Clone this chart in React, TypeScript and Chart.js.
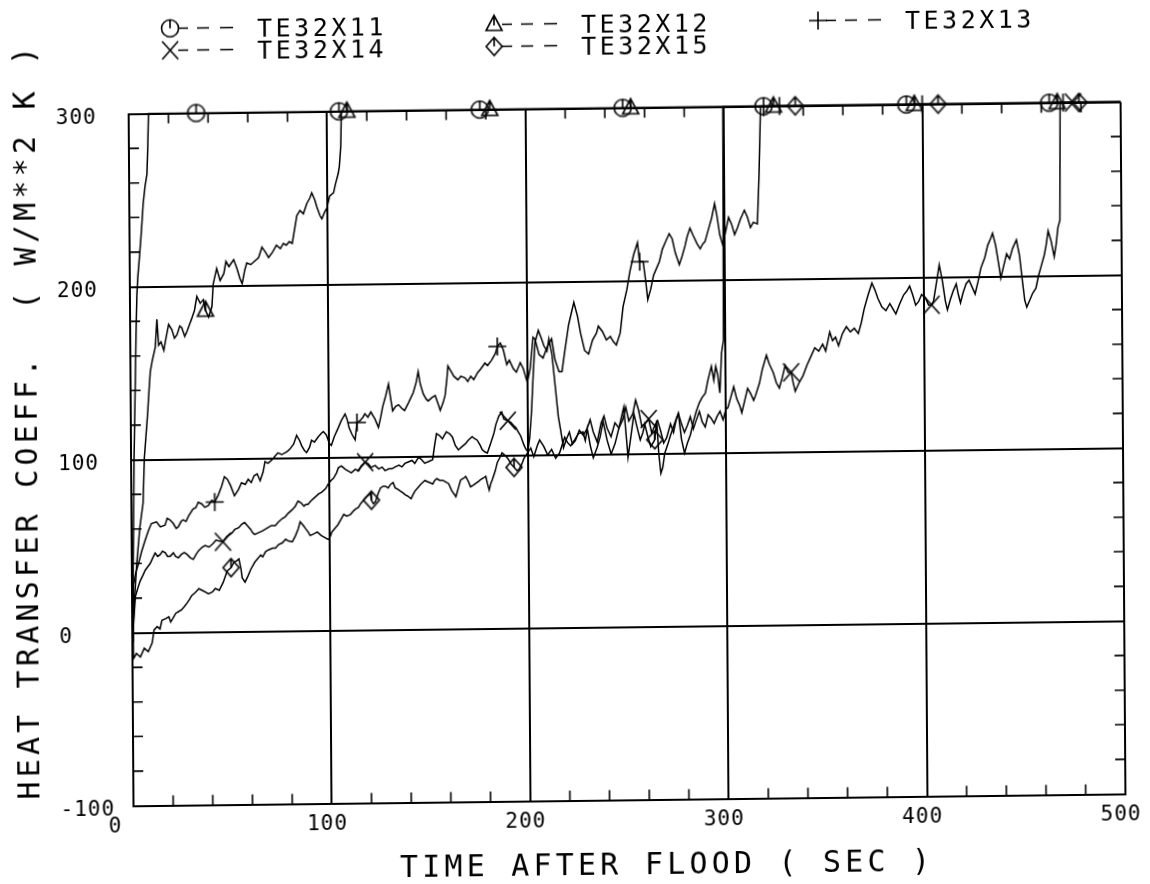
import React, { useEffect, useRef } from 'react';
import { Chart, registerables } from 'chart.js';

Chart.register(...registerables);

// ---------- text ----------
const xTitle = 'TIME AFTER FLOOD ( SEC )';
const yTitle = 'HEAT TRANSFER COEFF.  ( W/M**2 K )';
const xTickLabels = [0, 100, 200, 300, 400, 500];
const yTickLabels = [-100, 0, 100, 200, 300];
const seriesNames = ['TE32X11', 'TE32X12', 'TE32X13', 'TE32X14', 'TE32X15'];
const seriesGlyphs = ['circle', 'triangle', 'plus', 'cross', 'diamond'];

// ---------- data: [time (s), HTC] ----------
const te32x11 = [
  [0, -5], [0.5, 25], [1, 60], [1.5, 100], [2, 125], [2.5, 150], [3, 175], [3.5, 195], [4, 205], [5, 218],
  [6, 232], [7, 248], [8, 258], [9, 265], [9.5, 280], [10, 300], [34, 300], [106, 300], [177, 300], [249, 300],
  [320, 300], [392, 300], [464, 300], [500, 300],
];
const te32x11Markers = [34, 106, 177, 249, 320, 392, 464];

const te32x12 = [
  [0, -5], [1, 15], [2.5, 40], [4.2, 61], [5.9, 75], [6.7, 101], [8.4, 125], [9.3, 140], [10, 151], [11, 157],
  [12.6, 165], [13.5, 181], [14.3, 166], [15.5, 168], [16.9, 163], [18, 170], [19.4, 178], [21, 175], [22.3, 170], [23.6, 172],
  [25, 177], [26, 176], [27.5, 171], [28.7, 174], [30, 178], [31, 181], [32.5, 186], [33.7, 194], [35.4, 190], [37, 192],
  [38, 186], [39.6, 182], [41.3, 188], [42, 201], [43.8, 210], [45.5, 203], [47.4, 207], [48.5, 214], [50, 211], [52.4, 215],
  [54, 210], [55.5, 204], [56.6, 201], [58, 209], [59, 213], [61, 212], [63, 214], [65, 216], [66.7, 222], [68.5, 219],
  [70, 216], [72, 219], [74, 223], [76, 221], [77.5, 224], [79, 223], [80.5, 225], [82, 224], [84.4, 240], [86, 243],
  [87.7, 241], [89.5, 247], [91, 250], [92, 253], [93.5, 249], [94.5, 245], [96, 240], [97, 238], [98.5, 242], [99.5, 244],
  [101, 251], [103, 253], [104, 258], [105.4, 264], [106, 268], [106.8, 280], [107.2, 300], [110, 300], [182, 300], [253, 300],
  [325, 300], [396, 300], [468, 300], [500, 300],
];
const te32x12Markers = [38, 110, 182, 253, 325, 396, 468];

const te32x13 = [
  [0, -5], [0.8, 28], [2, 35], [3.4, 40], [5, 47], [6.7, 53], [8.5, 59], [10, 63], [12.6, 64], [14.5, 61],
  [16.9, 62], [18, 66], [19.4, 65], [21, 63], [22.5, 60], [23.6, 61], [25, 64], [26, 65], [27.5, 64], [28.7, 67],
  [31, 71], [32.5, 72], [33.7, 75], [35.5, 74], [37, 72], [38.8, 73], [40.5, 76], [42, 75], [43.8, 79], [45.5, 84],
  [47, 89.6], [48.5, 88], [50, 84.6], [52, 78.5], [54, 82], [55.6, 86], [57.5, 85], [59, 88], [60.5, 86], [62, 90],
  [63.5, 91], [65, 87], [66.5, 92], [67.5, 98], [69, 97], [71, 99], [72.5, 101], [74, 103], [76, 102], [77.6, 103],
  [79, 104], [80, 105], [82, 108], [83.5, 113], [85, 110], [86, 107], [87.5, 104], [88.5, 103], [90, 106], [91, 110],
  [92.5, 109], [94.4, 112], [96, 114], [97, 115], [98.5, 113], [100, 108], [101, 107], [102.5, 112], [104.5, 117], [106, 121],
  [108, 125], [109, 122], [110, 117], [111.5, 113], [113, 110], [114, 120], [115.5, 121], [117, 123], [118, 125], [119.5, 123],
  [121, 126], [123, 122], [124.8, 117], [126, 123], [127, 129], [128.5, 135], [130, 142], [131, 134], [132, 126.5], [133.5, 129],
  [135, 130], [136.5, 128], [138, 126.5], [140, 131], [142.5, 137], [144, 143], [145, 149], [146, 142], [147.5, 136], [149, 133],
  [150, 132], [152, 134], [153.5, 135], [155, 130], [156, 126.5], [157.5, 131], [158.5, 135], [159.5, 145], [160, 152], [161.5, 149],
  [163, 146], [165, 144], [166.5, 146], [168.6, 145], [170, 143], [171.5, 146], [173, 144], [175, 148], [176.5, 150], [178.7, 153.5],
  [180, 152], [182, 155], [184, 159], [185, 163], [186.5, 165], [188, 161], [189.7, 152.5], [191, 155], [193, 150], [194.5, 148],
  [196.5, 153.5], [198, 150], [200, 142], [201.5, 150], [203, 168], [204, 167], [206, 158], [208, 156], [210, 162], [212.4, 167],
  [214, 155], [216, 148], [217.5, 148], [219, 160], [221, 175], [223.7, 188], [225.5, 180], [227, 170], [229, 160], [231, 158],
  [233, 166], [235, 170], [236, 174], [238, 171], [240, 166], [242, 168], [243.5, 165], [245, 163], [247, 170], [248.5, 185],
  [250.5, 195], [252, 205], [254, 215], [256, 222], [257, 211], [258.8, 211], [260, 200], [261, 189], [262.5, 195], [264, 203],
  [265.5, 207], [267, 211], [268.5, 218], [270, 222], [272, 227], [273.5, 224], [275, 216], [277, 209], [278.5, 214], [280, 220],
  [281, 225], [282.5, 230], [284, 226], [286, 221], [287.6, 218], [289, 221], [290, 222], [292, 230], [293.5, 236], [295, 244],
  [296, 238], [297.5, 226], [299, 220], [300.5, 228], [302, 236], [303.5, 232], [305, 226], [306.5, 230], [308, 235], [310, 240],
  [311.5, 236], [313, 230], [314.5, 233], [316.5, 232], [317.5, 260], [318.5, 300], [328, 300], [400, 300], [471, 300], [500, 300],
];
const te32x13Markers = [42, 114, 185, 257, 328, 400, 471];

const te32x14 = [
  [0, -5], [1.7, 21], [3, 26], [4.2, 30], [5.5, 33], [6.7, 36], [8, 38], [9.3, 40], [10.5, 43], [11.8, 46],
  [13, 44], [14.3, 45], [15.5, 47], [16.9, 46], [18, 44], [19.4, 44], [21, 46], [22, 44], [23.5, 43], [25, 45],
  [26.5, 46], [27.8, 45], [29.5, 43], [31, 42], [32.5, 45], [33.7, 47], [35.5, 49], [37, 50], [39, 49], [41, 51],
  [42.5, 53], [44, 52.5], [46, 52], [48, 55], [50.6, 57], [52, 59], [54, 60], [55.5, 62], [57, 63], [58.5, 61],
  [60, 59], [61, 57], [62, 56], [64, 57], [66, 58], [67.5, 59], [69, 60], [70.5, 61], [72.5, 61], [74, 63],
  [76, 65], [77.5, 66], [79, 68], [81, 70], [82.6, 72], [84, 75], [85.5, 74], [87, 72], [88, 73], [89, 73],
  [90.5, 75], [92, 76.5], [94.4, 79], [96, 80], [98, 82], [99.5, 85], [101, 87], [102, 88], [103.5, 91], [104.5, 94],
  [106, 95], [108, 93], [109.5, 92], [111, 91], [113, 93], [114.7, 92], [116, 95], [118, 97], [119.5, 96], [121, 94],
  [123, 95], [124.8, 93], [126.5, 94], [128, 92], [130, 93], [131.5, 93], [133, 94], [135, 95], [136.5, 94], [138, 96],
  [140, 97], [141.6, 97.7], [143, 96], [145, 99.6], [146.5, 98], [148, 96], [150, 97], [152, 98], [153, 106], [154, 113],
  [155.5, 112], [157, 110], [158, 112], [159, 114], [160.5, 113], [162, 111], [163.5, 106], [165, 103.5], [166.5, 105], [168.6, 107],
  [170, 109], [172, 111], [173, 110], [174.5, 109], [176, 106], [177, 103.5], [178.5, 102], [179.6, 101.5], [181, 106], [183, 113],
  [184, 118], [185.5, 122.7], [187, 125], [188, 121], [190, 120], [191.5, 119], [193, 117], [194, 116], [195.5, 113], [196.5, 111],
  [198, 106], [199, 103.5], [200, 102], [201, 110], [202, 125], [203, 147], [204, 165], [205.7, 172], [207, 168], [208.5, 163],
  [210, 160], [211, 167], [212.5, 158], [214, 140], [215.5, 122], [216.5, 115], [218, 104], [219.5, 109], [221, 113], [222.5, 106],
  [224, 108], [226, 114], [228, 111], [230, 115], [231.5, 120], [233, 113], [235, 107], [237, 118], [238.5, 122], [240, 115],
  [242, 110], [244, 118], [246, 115], [248, 120], [249.5, 127], [251, 119], [253, 123], [254.5, 131], [256, 125], [257.5, 116],
  [259, 117], [261, 120], [262.5, 112], [264, 116], [265.5, 119], [267, 113], [268.5, 106], [270, 109], [272, 117], [273.5, 112],
  [275, 120], [276, 123], [277.5, 117], [279, 112], [280.5, 116], [282, 121], [283.5, 114], [285, 119], [286.6, 124], [288, 118],
  [289.5, 115], [291, 122], [292.5, 120], [294, 117], [295.5, 121], [297, 124], [298.5, 119], [300, 125], [301, 126], [302.5, 132],
  [304, 138], [305.5, 131], [307, 127], [308, 123], [309.5, 130], [311, 137], [312.5, 134], [314, 130], [315, 133], [317, 140],
  [318.5, 148], [320.6, 156], [322, 151], [324, 146], [325.5, 140], [327, 137], [328.5, 143], [330, 150], [331.5, 146], [333, 146],
  [334, 140], [335, 135], [337, 140], [339, 144], [341, 150], [343, 155], [345, 160], [347, 158], [349, 162], [350.5, 158],
  [352.6, 169], [354, 164], [355.5, 166], [357, 161], [359, 168], [361, 172], [363, 169], [365, 171], [367, 168], [368.5, 174],
  [370, 182], [372, 190], [374, 197], [375.5, 193], [377, 188], [379, 183], [381, 181], [383, 185], [384.5, 182], [386, 179],
  [388, 185], [390, 190], [391.5, 192], [393, 195], [394.5, 190], [396, 184], [397.5, 186], [399, 190], [401, 188], [402.5, 184],
  [404, 184], [405, 186], [406, 193], [407, 200], [408, 207], [409.5, 198], [411, 186], [412, 181], [413.5, 187], [415, 192],
  [416.5, 196], [417.5, 190], [418.6, 185], [420, 191], [421.5, 196], [423, 198], [424.5, 194], [426, 190], [427.5, 197], [429, 205],
  [431, 211], [432.5, 218], [434, 222], [435, 225], [436.5, 218], [438, 207], [439, 199], [440.5, 206], [442, 213], [443.5, 210],
  [445, 216], [447, 221], [448.5, 212], [450, 196], [451, 186], [452, 182], [453.5, 186], [455, 190], [456.7, 193], [458, 200],
  [459.5, 206], [461, 212], [462, 218], [463, 226], [464.5, 220], [466, 211], [467, 218], [468, 228], [469, 232], [469.5, 300],
  [476, 300], [500, 300],
];
const te32x14Markers = [46, 118, 190, 261, 333, 404, 476];

const te32x15 = [
  [0, 0], [0.5, -15], [2, -12], [4, -14], [6, -9], [8, -11], [10, -6], [11, 1.5], [12.6, 3.5], [14, 2],
  [15, 7], [17, 8], [18.5, 9], [19.4, 6], [20.5, 8], [22, 11], [23.5, 12], [25, 13], [26.5, 15], [27.8, 17],
  [29, 19], [30, 21], [32, 23], [33.7, 25], [35.5, 24], [37, 23], [38.5, 22], [40.5, 23], [42, 25], [44, 24],
  [46, 28.5], [48, 35], [50, 37], [51.4, 40], [53, 41], [54, 42], [55, 36], [55.6, 31], [57, 28.5], [58.5, 32],
  [60, 36], [62, 40], [63.5, 42], [65, 44], [66, 43], [67.5, 46], [69, 47], [71, 48], [72.5, 48], [74, 50],
  [76, 51], [77.6, 53], [79, 52], [81, 51.5], [82.6, 55], [84, 59], [85, 63], [86.5, 61], [87.7, 59], [89, 57],
  [90, 55], [92, 56], [93.6, 57], [95.5, 55], [97, 54], [98.5, 53], [99.5, 52.5], [101, 57], [102.5, 59], [104, 61],
  [105.5, 64], [107, 67], [108.5, 66], [110.5, 67], [112, 69], [113, 70], [114.5, 71], [115.5, 73], [117, 75], [118, 76.5],
  [119.5, 78], [120.5, 79], [121, 75], [122, 73], [123, 74], [124.5, 79], [125.6, 82], [127, 83], [128, 83], [129.5, 82],
  [130.7, 84], [132, 85], [133, 82], [134.5, 81], [135.7, 80], [137, 79], [138, 78], [139.5, 77], [141, 75.6], [142, 78],
  [143, 80], [144.5, 82], [146, 84], [147, 85], [148, 86], [150, 85], [152, 84], [153, 86], [154, 87], [155.5, 86],
  [157, 86], [158.5, 85], [160, 84], [161.5, 80], [163.6, 76.5], [165, 82], [166, 86], [167.5, 87], [168.6, 88], [170, 85],
  [171, 82], [172.5, 83], [173.7, 84], [175, 85], [176, 86], [177.5, 87], [178.7, 88], [179.5, 84], [180.4, 80], [181.3, 84],
  [182, 86], [183.5, 91], [184.6, 96], [186, 99], [187, 101.5], [188.5, 100], [190, 98], [191.5, 95], [193, 93], [194.5, 91],
  [195.6, 92], [197, 95], [198, 98], [200, 101.5], [201.5, 104], [203, 99], [205, 106], [206, 108.6], [208, 105], [210, 100],
  [212, 103], [214, 98], [216, 101], [218.6, 110], [220, 107], [221.6, 105], [223.7, 108.6], [225.5, 112], [227.8, 113], [229, 108],
  [230, 115], [231.5, 105], [233, 98], [235, 104], [236.5, 110], [238, 119], [240, 108], [242, 100], [244, 106], [246, 115],
  [248.5, 127], [250.5, 98], [252, 110], [253.6, 123], [255, 116], [256.7, 108], [258, 112], [259, 117], [260.5, 110], [262, 104],
  [264, 108], [265, 119], [266, 100], [267, 88.5], [268, 92], [269, 100], [270.5, 105], [272, 110.6], [274, 117], [276, 123],
  [277.5, 108], [279, 100], [280.5, 106], [282, 110.6], [283.5, 118], [285, 124], [286.6, 129], [288, 132], [289.7, 134.6], [291, 142],
  [292.8, 150], [294, 142], [295, 150], [296, 145], [297, 134.6], [298, 157.7], [299, 165], [299.5, 300], [336, 300], [408, 300],
  [479, 300], [500, 300],
];
const te32x15Markers = [50, 121, 193, 264, 336, 408, 479];

const seriesData = [te32x11, te32x12, te32x13, te32x14, te32x15];
const seriesMarkers = [te32x11Markers, te32x12Markers, te32x13Markers, te32x14Markers, te32x15Markers];

const FONT = '"DejaVu Sans Mono", monospace';

function makeGlyph(kind: string): HTMLCanvasElement {
  const c = document.createElement('canvas');
  c.width = 26;
  c.height = 26;
  const g = c.getContext('2d')!;
  g.translate(13, 13);
  g.strokeStyle = '#000';
  g.lineWidth = 1.6;
  g.beginPath();
  if (kind === 'circle') {
    g.arc(0, 0, 8.5, 0, Math.PI * 2);
    g.moveTo(0, -8.5);
    g.lineTo(0, 0);
  } else if (kind === 'triangle') {
    g.moveTo(0, -9);
    g.lineTo(8, 6);
    g.lineTo(-8, 6);
    g.closePath();
    g.moveTo(0, -9);
    g.lineTo(0, 1);
  } else if (kind === 'plus') {
    g.moveTo(-9, 0);
    g.lineTo(9, 0);
    g.moveTo(0, -9);
    g.lineTo(0, 9);
  } else if (kind === 'cross') {
    g.moveTo(-8, -9);
    g.lineTo(8, 9);
    g.moveTo(-8, 9);
    g.lineTo(8, -9);
  } else {
    g.moveTo(0, -9);
    g.lineTo(8, 0);
    g.lineTo(0, 9);
    g.lineTo(-8, 0);
    g.closePath();
    g.moveTo(0, -9);
    g.lineTo(0, 0);
  }
  g.stroke();
  return c;
}

export default function App() {
  const ref = useRef<HTMLCanvasElement>(null);

  useEffect(() => {
    const canvas = ref.current;
    if (!canvas) return;
    const glyphs: Record<string, HTMLCanvasElement> = {};
    seriesGlyphs.forEach((k) => {
      glyphs[k] = makeGlyph(k);
    });

    const decor = {
      id: 'decor',
      beforeDatasetsDraw(chart: any) {
        const { ctx, chartArea: a, scales } = chart;
        const xs = scales.x;
        const ys = scales.y;
        ctx.save();
        ctx.strokeStyle = '#000';
        ctx.lineWidth = 1.6;
        ctx.beginPath();
        for (let v = 20; v < 500; v += 20) {
          if (v % 100 === 0) continue;
          const px = xs.getPixelForValue(v);
          ctx.moveTo(px, a.bottom);
          ctx.lineTo(px, a.bottom - 10);
          ctx.moveTo(px, a.top);
          ctx.lineTo(px, a.top + 10);
        }
        for (let v = -80; v < 300; v += 20) {
          if (v % 100 === 0) continue;
          const py = ys.getPixelForValue(v);
          ctx.moveTo(a.left, py);
          ctx.lineTo(a.left + 10, py);
          ctx.moveTo(a.right, py);
          ctx.lineTo(a.right - 10, py);
        }
        ctx.stroke();
        ctx.restore();
      },
      afterDraw(chart: any) {
        const { ctx, chartArea: a, scales } = chart;
        const xs = scales.x;
        const ys = scales.y;
        ctx.save();
        ctx.fillStyle = '#000';
        ctx.textBaseline = 'alphabetic';
        ctx.textAlign = 'left';

        // tick labels
        ctx.font = `21px ${FONT}`;
        (ctx as any).letterSpacing = '1px';
        yTickLabels.forEach((v) => {
          ctx.fillText(String(v), 58, ys.getPixelForValue(v) + 2 + 7.6);
        });
        xTickLabels.forEach((v) => {
          ctx.fillText(String(v), xs.getPixelForValue(v) - 25, a.bottom + 18.5 + 7.6);
        });

        // axis titles
        ctx.font = `30px ${FONT}`;
        (ctx as any).letterSpacing = '4.2px';
        ctx.fillText(xTitle, 397, 875);
        ctx.save();
        ctx.translate(37, 793);
        ctx.rotate(-Math.PI / 2);
        ctx.fillText(yTitle, 0, 0);
        ctx.restore();

        // legend
        ctx.font = `25px ${FONT}`;
        (ctx as any).letterSpacing = '3.5px';
        ctx.strokeStyle = '#000';
        ctx.lineWidth = 1.6;
        seriesNames.forEach((name, i) => {
          const col = i % 3;
          const row = Math.floor(i / 3);
          const cx = 173 + col * 324;
          const cy = row === 0 ? 23.5 : 45.5;
          const gl = glyphs[seriesGlyphs[i]];
          ctx.drawImage(gl, cx - gl.width / 2, cy - gl.height / 2);
          ctx.beginPath();
          [[8, 18], [27, 39], [50, 63]].forEach(([s, e]) => {
            ctx.moveTo(cx + s, cy);
            ctx.lineTo(cx + e, cy);
          });
          ctx.stroke();
          ctx.fillText(name, cx + 87, cy + 9.1);
        });
        ctx.restore();
      },
    };

    const datasets = seriesData.map((pts, i) => {
      const marks = seriesMarkers[i];
      return {
        label: seriesNames[i],
        data: pts.map(([x, y]) => ({ x, y })),
        borderColor: '#000',
        borderWidth: 1.5,
        tension: 0,
        fill: false,
        clip: false as any,
        pointStyle: glyphs[seriesGlyphs[i]],
        pointRadius: (c: any) => (c.raw && marks.includes(c.raw.x) ? 9 : 0),
        pointHoverRadius: 0,
        pointBorderColor: '#000',
        pointBackgroundColor: 'rgba(0,0,0,0)',
      };
    });

    const axisCommon = {
      type: 'linear' as const,
      ticks: { display: false, stepSize: 100 },
      grid: { color: '#000', lineWidth: 2, drawTicks: false },
      border: { display: true, color: '#000', width: 2 },
    };

    const chart = new Chart(canvas, {
      type: 'line',
      data: { datasets: datasets as any },
      options: {
        responsive: false,
        animation: false,
        events: [],
        layout: { padding: { left: 131, top: 108.5, right: 27, bottom: 83.5 } },
        plugins: { legend: { display: false }, tooltip: { enabled: false } },
        scales: {
          x: { ...axisCommon, min: 0, max: 500 },
          y: { ...axisCommon, min: -100, max: 300 },
        },
      } as any,
      plugins: [decor],
    });
    return () => chart.destroy();
  }, []);

  return (
    <canvas
      ref={ref}
      width={1150}
      height={884}
      style={{
        position: 'fixed',
        left: 0,
        top: 0,
        width: '1150px',
        height: '884px',
        transform: 'matrix(1, -0.012, 0.007, 1, 0, 0)',
        transformOrigin: '575px 442px',
      }}
    />
  );
}
